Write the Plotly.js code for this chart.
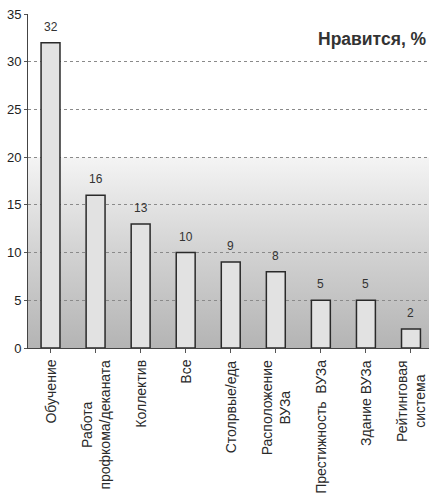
<!DOCTYPE html>
<html>
<head>
<meta charset="utf-8">
<script src="https://cdn.plot.ly/plotly-3.0.1.min.js"></script>
<style>
html,body{margin:0;padding:0;background:#fff;}
#chart{width:429px;height:498px;}
</style>
</head>
<body>
<div id="chart"></div>
<script>
const categories = [
  "Обучение",
  "Работа<br>профкома/деканата",
  "Коллектив",
  "Все",
  "Столрвые/еда",
  "Расположение<br>ВУЗа",
  "Престижность  ВУЗа",
  "Здание ВУЗа",
  "Рейтинговая<br>система"
];
const values = [32, 16, 13, 10, 9, 8, 5, 5, 2];
const yTicks = [0, 5, 10, 15, 20, 25, 30, 35];
const chartTitle = "Нравится, %";

const FONT = 'Arial, Liberation Sans, sans-serif';

const gradSvg = '<svg xmlns="http://www.w3.org/2000/svg" width="10" height="100" preserveAspectRatio="none">' +
  '<defs><linearGradient id="g" x1="0" y1="0" x2="0" y2="1">' +
  '<stop offset="0" stop-color="#f4f4f4"/><stop offset="0.5" stop-color="#d2d2d2"/><stop offset="1" stop-color="#b4b4b4"/>' +
  '</linearGradient></defs><rect width="10" height="100" fill="url(#g)"/></svg>';
const gradSrc = 'data:image/svg+xml;charset=utf-8,' + encodeURIComponent(gradSvg);

const xIdx = categories.map((c, i) => i);

const trace = {
  type: 'bar',
  x: xIdx,
  y: values,
  width: 0.42,
  marker: {color: '#e2e2e2', line: {color: '#2a2a2a', width: 1.5}},
  hoverinfo: 'skip'
};

const valueLabels = values.map((v, i) => ({
  x: xIdx[i], y: v, xref: 'x', yref: 'y',
  text: String(v), showarrow: false,
  yanchor: 'bottom', yshift: 7,
  font: {family: FONT, size: 12, color: '#333'}
}));

const catLabels = categories.map((c, i) => ({
  x: xIdx[i], y: 0, xref: 'x', yref: 'paper',
  text: c, showarrow: false,
  textangle: -90, align: 'center',
  xanchor: 'center', yanchor: 'top', yshift: -10,
  font: {family: FONT, size: 14, color: '#2a2a2a'}
}));

const layout = {
  width: 429, height: 498,
  margin: {l: 28, r: 0, t: 14, b: 150},
  paper_bgcolor: '#ffffff',
  plot_bgcolor: 'rgba(0,0,0,0)',
  showlegend: false,
  title: {
    text: '<b>' + chartTitle + '</b>',
    x: 0.993, xanchor: 'right', xref: 'paper',
    y: 1 - 38.5/498, yanchor: 'middle',
    font: {family: FONT, size: 17.5, color: '#333'}
  },
  xaxis: {
    range: [-0.5, 8.4],
    tickmode: 'array',
    tickvals: xIdx,
    ticktext: categories,
    showticklabels: false,
    ticks: 'outside', ticklen: 4, tickcolor: '#555',
    tickson: 'boundaries',
    showline: true, linecolor: '#444', linewidth: 1,
    showgrid: false, zeroline: false,
    fixedrange: true
  },
  yaxis: {
    range: [0, 35],
    tickmode: 'array',
    tickvals: yTicks,
    ticks: 'outside', ticklen: 3, tickcolor: '#555',
    showline: true, linecolor: '#444', linewidth: 1,
    showgrid: true, gridcolor: '#8a8a8a', gridwidth: 1, griddash: 'dot',
    zeroline: false,
    tickfont: {family: FONT, size: 13, color: '#222'},
    fixedrange: true
  },
  images: [{
    source: gradSrc, xref: 'paper', yref: 'y',
    x: 0, y: 20, sizex: 1, sizey: 20,
    xanchor: 'left', yanchor: 'top',
    sizing: 'stretch', layer: 'below'
  }],
  annotations: valueLabels.concat(catLabels)
};

Plotly.newPlot('chart', [trace], layout, {displayModeBar: false, staticPlot: true});
</script>
</body>
</html>
